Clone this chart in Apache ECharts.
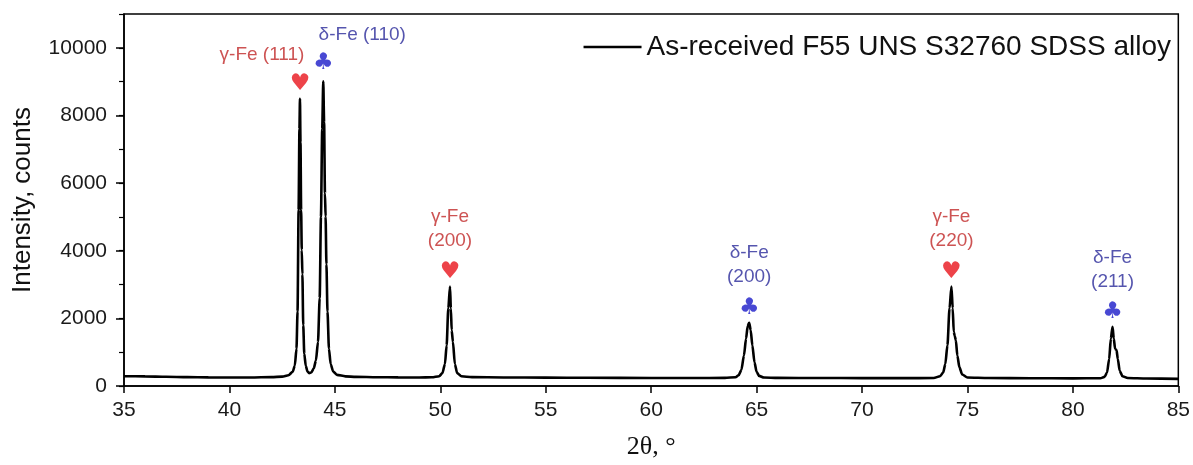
<!DOCTYPE html>
<html>
<head>
<meta charset="utf-8">
<script src="https://cdn.jsdelivr.net/npm/echarts@6/dist/echarts.min.js"></script>
<style>
  html, body { margin: 0; padding: 0; background: #fff; }
  #main { width: 1193px; height: 465px; }
</style>
</head>
<body>
<div id="main"></div>
<script>
// XRD pattern: 2theta (deg) and intensity (counts)
const twoTheta = [
  35.0, 36.0, 37.0, 38.0, 39.0, 40.0, 41.0, 42.0, 42.5, 42.8, 43.0, 43.1, 43.18, 43.23, 43.28, 43.32,
  43.345, 43.37, 43.4, 43.43, 43.46, 43.5, 43.55, 43.62, 43.7, 43.78, 43.88, 44.0, 44.1, 44.2, 44.28,
  44.34, 44.4, 44.45, 44.49, 44.53, 44.56, 44.6, 44.65, 44.72, 44.8, 44.92, 45.1, 45.5, 46.0, 47.0,
  48.0, 49.0, 49.6, 49.95, 50.1, 50.22, 50.3, 50.38, 50.46, 50.5, 50.54, 50.6, 50.69, 50.8, 51.0,
  51.5, 53.0, 55.0, 57.0, 60.0, 62.0, 63.5, 64.0, 64.15, 64.28, 64.4, 64.5, 64.58, 64.65, 64.72,
  64.8, 64.9, 65.0, 65.12, 65.35, 66.0, 68.0, 70.0, 72.0, 73.4, 73.7, 73.85, 73.95, 74.05, 74.15,
  74.24, 74.3, 74.35, 74.4, 74.45, 74.52, 74.62, 74.75, 75.0, 76.0, 78.0, 80.0, 81.3, 81.5, 81.62,
  81.72, 81.8, 81.88, 81.94, 82.0, 82.07, 82.13, 82.22, 82.35, 82.6, 83.5, 85.0
];
const intensity = [
  290, 285, 272, 262, 255, 250, 252, 262, 278, 320, 420, 600, 1100, 2200, 5200, 7600,
  8490, 7200, 5200, 4020, 3300, 1800, 950, 600, 430, 380, 400, 520, 750, 1300, 2600,
  5000, 7600, 9010, 7800, 5700, 5010, 3600, 2200, 1100, 650, 430, 330, 285, 270, 260,
  255, 252, 258, 290, 380, 650, 1200, 2300, 2940, 2300, 1650, 1300, 650, 380, 290,
  262, 252, 248, 242, 238, 236, 240, 260, 320, 480, 900, 1400, 1780, 1870, 1650,
  1200, 700, 420, 300, 250, 240, 236, 233, 232, 236, 290, 400, 650, 1200, 2300,
  2940, 2300, 1600, 1480, 1350, 900, 550, 340, 250, 235, 228, 226, 228, 270, 400,
  800, 1400, 1750, 1400, 1100, 1060, 800, 450, 290, 235, 220, 212
];

// indexed reflections
const peakTheta = [43.345, 44.45, 50.46, 64.65, 74.24, 81.88];
const peakCounts = [8490, 9010, 2940, 1870, 2940, 1750];
const peakPhase = ['γ-Fe', 'δ-Fe', 'γ-Fe', 'δ-Fe', 'γ-Fe', 'δ-Fe'];
const peakPlane = ['(111)', '(110)', '(200)', '(200)', '(220)', '(211)'];

const seriesName = 'As-received F55 UNS S32760 SDSS alloy';
const FONT = '"Liberation Sans", Arial, sans-serif';

const chart = echarts.init(document.getElementById('main'), null, { renderer: 'canvas' });

const lineData = twoTheta.map((t, i) => [t, intensity[i]]);

const isGamma = p => p.charAt(0) === 'γ';

// glyph (heart / club) just above each peak
const glyphData = peakTheta.map((t, i) => ({
  value: [t, peakCounts[i]],
  label: {
    formatter: isGamma(peakPhase[i]) ? '♥' : '♣',
    color: isGamma(peakPhase[i]) ? '#e8141c' : '#1a1ac8',
    distance: i === 1 ? 8 : 4
  }
}));

// text labels; the two big peaks get a one-line label shifted sideways
const textData = peakTheta.map((t, i) => {
  const oneLine = i < 2;
  return {
    value: [t, peakCounts[i]],
    label: {
      formatter: oneLine ? peakPhase[i] + ' ' + peakPlane[i] : peakPhase[i] + '\n' + peakPlane[i],
      color: isGamma(peakPhase[i]) ? '#c02828' : '#2a2a9a',
      distance: oneLine ? (i === 0 ? 32 : 34) : 33,
      offset: i === 0 ? [-38, 0] : (i === 1 ? [39, 0] : [0, 0])
    }
  };
});

const option = {
  backgroundColor: '#ffffff',
  animation: false,
  grid: {
    left: 124, right: 14, top: 14, bottom: 79,
    show: true, borderColor: '#000', borderWidth: 1.5
  },
  legend: {
    data: [seriesName],
    icon: 'rect',
    right: 22,
    top: 33,
    padding: 0,
    itemWidth: 58,
    itemHeight: 2.5,
    itemGap: 7,
    itemStyle: { color: '#000' },
    textStyle: { fontFamily: FONT, fontSize: 28, color: '#111' }
  },
  xAxis: {
    type: 'value',
    min: 35, max: 85, interval: 5,
    name: '2θ, °',
    nameLocation: 'middle',
    nameGap: 48,
    nameTextStyle: { fontFamily: '"Liberation Serif", serif', fontSize: 26, color: '#111' },
    axisLine: { lineStyle: { color: '#000', width: 1.5 } },
    axisTick: { inside: false, length: 7, lineStyle: { color: '#000', width: 1.5 } },
    axisLabel: { fontFamily: FONT, fontSize: 21, color: '#1a1a1a', margin: 14 },
    splitLine: { show: false }
  },
  yAxis: [{
    type: 'value',
    min: 0, max: 11000, interval: 2000,
    name: 'Intensity, counts',
    nameLocation: 'middle',
    nameGap: 88,
    nameTextStyle: { fontFamily: FONT, fontSize: 26, color: '#111' },
    axisLine: { show: true, lineStyle: { color: '#000', width: 1.5 } },
    axisTick: { inside: false, length: 8, lineStyle: { color: '#000', width: 1.5 } },
    axisLabel: {
      fontFamily: FONT, fontSize: 21, color: '#1a1a1a', margin: 17, showMaxLabel: false,
      formatter: v => String(v)
    },
    splitLine: { show: false }
  }, {
    type: 'value',
    position: 'left',
    min: 0, max: 11000, interval: 1000,
    axisLine: { show: false },
    axisTick: { inside: false, length: 5, lineStyle: { color: '#000', width: 1.2 } },
    axisLabel: { show: false },
    splitLine: { show: false }
  }],
  series: [{
    name: seriesName,
    type: 'line',
    data: lineData,
    symbol: 'none',
    smooth: 0.25,
    smoothMonotone: 'x',
    lineStyle: { color: '#000', width: 2.6 },
    itemStyle: { color: '#000' },
    z: 3
  }, {
    type: 'scatter',
    data: glyphData,
    symbolSize: 1,
    itemStyle: { color: 'rgba(0,0,0,0)' },
    silent: true,
    label: {
      show: true,
      position: 'top',
      fontFamily: '"DejaVu Sans", sans-serif',
      fontSize: 23,
      lineHeight: 20
    },
    z: 4
  }, {
    type: 'scatter',
    data: textData,
    symbolSize: 1,
    itemStyle: { color: 'rgba(0,0,0,0)' },
    silent: true,
    label: {
      show: true,
      position: 'top',
      fontFamily: FONT,
      fontSize: 19,
      lineHeight: 24,
      align: 'center'
    },
    z: 4
  }]
};

chart.setOption(option);
</script>
</body>
</html>
